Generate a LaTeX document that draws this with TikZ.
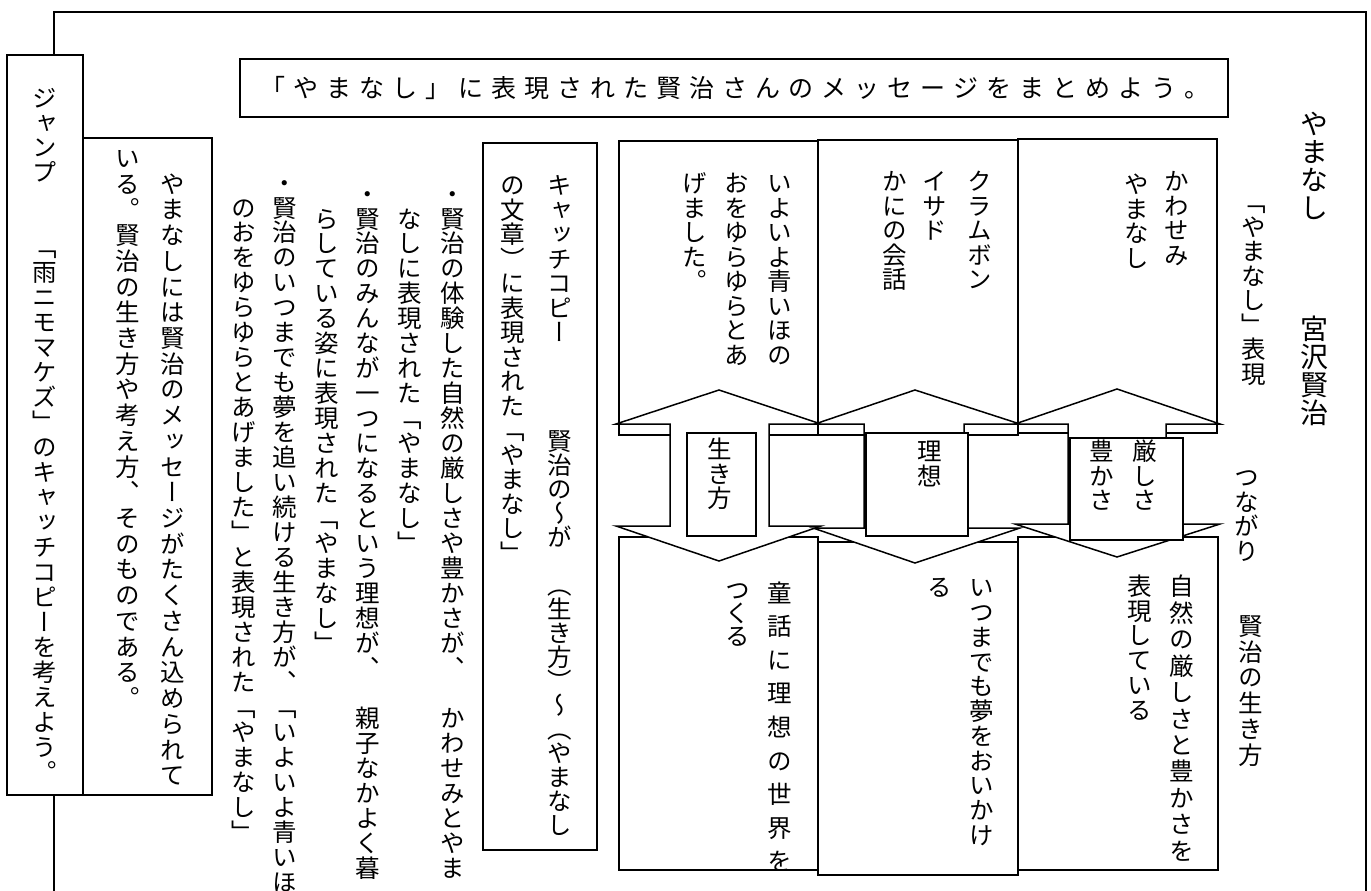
\documentclass[tikz,border=0pt]{standalone}
\usepackage{fontspec}
\newfontfamily\jph{Noto Sans CJK JP}
\newfontfamily\jpv[RawFeature=+vert]{Noto Sans CJK JP}
\ExplSyntaxOn
\NewDocumentCommand \vt { O{1} m }
  {
    \vbox:n
      {
        \offinterlineskip
        \tl_map_inline:nn {#2}
          {
            \hbox_to_wd:nn {1em}
              {
                \hss
                \vbox_to_ht:nn {#1em}
                  { \vss \hbox:n { \rule[-0.12em]{0pt}{1em} ##1 } \vss }
                \hss
              }
          }
      }
  }
\NewDocumentCommand \hzt { O{1} m }
  {
    \hbox:n { \tl_map_inline:nn {#2} { \hbox_to_wd:nn {#1em} { \hss ##1 \hss } } }
  }
\ExplSyntaxOff
\tikzset{
  frame/.style={line width=1.8pt},
  box/.style={line width=1.5pt},
  vtxt/.style={anchor=north, inner sep=0pt, font=\jpv\fontsize{24.5}{24.5}\selectfont},
  bigv/.style={anchor=north, inner sep=0pt, font=\jpv\fontsize{28}{28}\selectfont},
  htxt/.style={inner sep=0pt, font=\jph\fontsize{25}{25}\selectfont},
}
\begin{document}
\begin{tikzpicture}[x=1pt,y=-1pt]
\useasboundingbox (0,0) rectangle (1371,891);
\fill[white] (0,0) rectangle (1371,891);
% outer frame
\draw[frame] (54,55) -- (54,12) -- (1366,12) -- (1366,895);
\draw[frame] (54,795) -- (54,895);
% left boxes
\filldraw[box, fill=white] (7,55) rectangle (83,795);
\filldraw[box, fill=white] (83,138) rectangle (212,795);
% title
\draw[box] (240,59) rectangle (1228,117);
\node[htxt] (title) at (735,88) {\hzt[1.32]{「やまなし」に表現された賢治さんのメッセージをまとめよう。}};
% catch copy box
\draw[box] (483,143) rectangle (597,850);
% column boxes
\draw[box] (619,141) rectangle (818,435);
\draw[box] (1018,139) rectangle (1217,433);
\draw[box] (818,140) rectangle (1018,435);
\draw[box] (619,537) rectangle (818,870);
\draw[box] (1018,537) rectangle (1218,870);
\draw[box] (818,542) rectangle (1018,875);
% double arrows
\filldraw[box, fill=white] (616,424) -- (719,390) -- (821,424) -- (769,424) -- (769,526) -- (821,526) -- (719,561) -- (616,526) -- (670,526) -- (670,424) -- cycle;
\filldraw[box, fill=white] (815,424) -- (915,390) -- (1020,424) -- (964,424) -- (964,528) -- (1020,528) -- (915,563) -- (813,528) -- (864,528) -- (864,424) -- cycle;
\filldraw[box, fill=white] (1015,424) -- (1117,389) -- (1220,424) -- (1166,424) -- (1166,524) -- (1220,524) -- (1117,557) -- (1015,524) -- (1068,524) -- (1068,424) -- cycle;
% label boxes
\filldraw[box, fill=white] (687,433) rectangle (756,536);
\filldraw[box, fill=white] (866,433) rectangle (968,536);
\filldraw[box, fill=white] (1070,438) rectangle (1183,540);
% heading
\node[bigv] (h1) at (1314,110) {\vt{やまなし}};
\node[bigv] (h2) at (1314,315) {\vt{宮沢賢治}};
\node[vtxt] (expr) at (1254,190) {\vt{「やまなし」表現}};
\node[vtxt] (tsun) at (1247,465) {\vt{つながり}};
\node[vtxt] (ikik) at (1251,613) {\vt[1.05]{賢治の生き方}};
% top boxes
\node[vtxt] (r1) at (1177,169) {\vt{かわせみ}};
\node[vtxt] (r2) at (1137,172) {\vt{やまなし}};
\node[vtxt] (m1) at (980,169) {\vt{クラムボン}};
\node[vtxt] (m2) at (935,169) {\vt{イサド}};
\node[vtxt] (m3) at (895,169) {\vt{かにの会話}};
\node[vtxt] (l1) at (780,171) {\vt{いよいよ青いほの}};
\node[vtxt] (l2) at (737,171) {\vt{おをゆらゆらとあ}};
\node[vtxt] (l3) at (695,171) {\vt{げました。}};
% labels
\node[vtxt] (lab1) at (720,437) {\vt{生き方}};
\node[vtxt] (lab2) at (930,439) {\vt{理想}};
\node[vtxt] (lab3a) at (1145,439) {\vt{厳しさ}};
\node[vtxt] (lab3b) at (1102,439) {\vt{豊かさ}};
% bottom boxes
\node[vtxt] (rb1) at (1182,573) {\vt[1.08]{自然の厳しさと豊かさを}};
\node[vtxt] (rb2) at (1140,573) {\vt[1.02]{表現している}};
\node[vtxt] (mb1) at (982,575) {\vt[1.01]{いつまでも夢をおいかけ}};
\node[vtxt] (mb2) at (940,575) {\vt{る}};
\node[vtxt] (lb1) at (780,576) {\vt[1.37]{童話に理想の世界を}};
\node[vtxt] (lb2) at (738,578) {\vt[0.95]{つくる}};
% catch copy
\node[vtxt] (c1a) at (560,173) {\vt{キャッチコピー}};
\node[vtxt] (c1b) at (560,429) {\vt[0.98]{賢治の〜が　（生き方）〜（やまなし}};
\node[vtxt] (c2) at (513,173) {\vt{の文章）に表現された「やまなし」}};
% bullets
\node[vtxt] (b1) at (453,181) {\vt[1.02]{・賢治の体験した自然の厳しさや豊かさが、　かわせみとやま}};
\node[vtxt] (b2) at (410,181) {\vt[1.02]{　なしに表現された「やまなし」}};
\node[vtxt] (b3) at (368,181) {\vt[1.02]{・賢治のみんなが一つになるという理想が、　親子なかよく暮}};
\node[vtxt] (b4) at (327,181) {\vt[1.02]{　らしている姿に表現された「やまなし」}};
\node[vtxt] (b5) at (285,170) {\vt[1.02]{・賢治のいつまでも夢を追い続ける生き方が、「いよいよ青いほ}};
\node[vtxt] (b6) at (244,170) {\vt[1.02]{　のおをゆらゆらとあげました」と表現された「やまなし」}};
% message
\node[vtxt] (ms1) at (173,145) {\vt[1.05]{　やまなしには賢治のメッセージがたくさん込められて}};
\node[vtxt] (ms2) at (128,145) {\vt[1.05]{いる。賢治の生き方や考え方、そのものである。}};
% jump
\node[vtxt] (jp) at (45,85) {\vt[1.02]{ジャンプ　　「雨ニモマケズ」のキャッチコピーを考えよう。}};
\end{tikzpicture}
\end{document}
